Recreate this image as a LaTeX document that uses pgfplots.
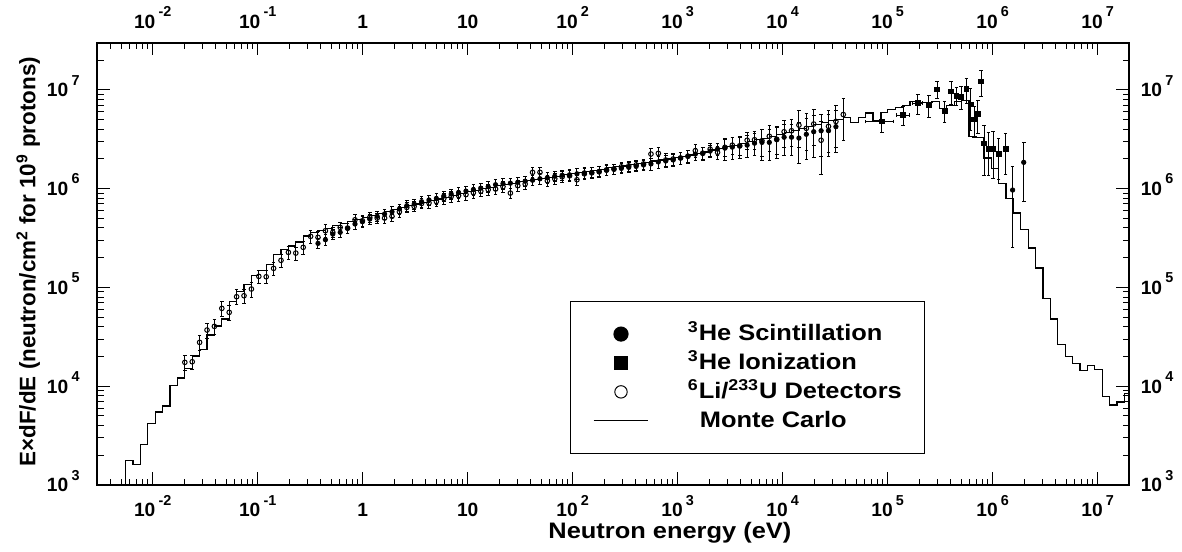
\documentclass[border=0pt]{standalone}
\usepackage{fontspec}
\setmainfont{Liberation Sans}[UprightFont=* Bold]
\newfontfamily\labfont{Liberation Sans}[UprightFont=* Bold, FakeStretch=1.135]
\usepackage{pgfplots}
\pgfplotsset{compat=1.18}

% ROOT-style raised exponent for the tick labels
\newcommand{\tsup}[1]{\hspace{1.6pt}\raisebox{0.6em}{\scalebox{0.75}{#1}}}

\pgfplotsset{
  errs/.style={error bars/y dir=both, error bars/y explicit relative,
    error bars/error bar style={line width=0.5pt},
    error bars/error mark options={rotate=90, mark size=0.9pt, line width=0.5pt}},
}

\begin{document}
\begin{tikzpicture}
\begin{axis}[
  at={(0,0)}, anchor=south west,
  scale only axis, width=515.9pt, height=221.2pt,
  xmode=log, ymode=log,
  xmin=2.965e-3, xmax=1.99e7, ymin=1e3, ymax=3.0e7,
  xtick={1e-2,1e-1,1,10,1e2,1e3,1e4,1e5,1e6,1e7},
  xticklabels={10\tsup{-2},10\tsup{-1},1,10,10\tsup{2},10\tsup{3},10\tsup{4},10\tsup{5},10\tsup{6},10\tsup{7}},
  ytick={1e3,1e4,1e5,1e6,1e7},
  yticklabels={10\tsup{3},10\tsup{4},10\tsup{5},10\tsup{6},10\tsup{7}},
  tick label style={font=\fontsize{9.6}{11}\selectfont},
  xticklabel style={anchor=base, yshift=-15.85pt},
  yticklabel style={anchor=base east, yshift=-3.4pt, xshift=-5.35pt},
  tick align=inside, tick pos=both,
  major tick length=6.3pt, minor tick length=3.2pt,
  every tick/.style={black, line width=0.5pt},
  axis line style={line width=1pt},
  minor xtick={3e-3,4e-3,5e-3,6e-3,7e-3,8e-3,9e-3,
    2e-2,3e-2,4e-2,5e-2,6e-2,7e-2,8e-2,9e-2,
    0.2,0.3,0.4,0.5,0.6,0.7,0.8,0.9, 2,3,4,5,6,7,8,9,
    20,30,40,50,60,70,80,90, 200,300,400,500,600,700,800,900,
    2e3,3e3,4e3,5e3,6e3,7e3,8e3,9e3, 2e4,3e4,4e4,5e4,6e4,7e4,8e4,9e4,
    2e5,3e5,4e5,5e5,6e5,7e5,8e5,9e5, 2e6,3e6,4e6,5e6,6e6,7e6,8e6,9e6},
  minor ytick={2e3,3e3,4e3,5e3,6e3,7e3,8e3,9e3, 2e4,3e4,4e4,5e4,6e4,7e4,8e4,9e4,
    2e5,3e5,4e5,5e5,6e5,7e5,8e5,9e5, 2e6,3e6,4e6,5e6,6e6,7e6,8e6,9e6, 2e7},
  xlabel={Neutron energy (eV)},
  xlabel style={at={(axis description cs:0.555,-0.1198)}, anchor=base,
    font=\labfont\fontsize{11.2}{13}\selectfont},
  ylabel={E×dF/dE (neutron/cm\textsuperscript{2} for 10\textsuperscript{9} protons)},
  ylabel style={at={(axis description cs:-0.0601,0.505)}, rotate=0, anchor=base,
    font=\fontsize{11.2}{13}\selectfont},
  legend style={at={(0.458,0.416)}, anchor=north west, draw=black, line width=0.6pt,
    fill=white, inner xsep=11.35pt, inner ysep=9pt, row sep=0pt,
    font=\labfont\fontsize{11.2}{13}\selectfont,
    nodes={inner sep=0pt, text height=10.5pt, text depth=3.95pt},
    /tikz/every odd column/.append style={column sep=19.5pt}},
  legend cell align=left,
]
% Monte Carlo histogram (left bin edges)
\addplot[const plot, black, line width=0.6pt, forget plot] coordinates {
(5.52e-3,1000) (5.52e-3,1762) (6.49e-3,1622) (7.64e-3,2570) (8.98e-3,4169)
(1.057e-2,5495) (1.243e-2,6310) (1.462e-2,10230) (1.719e-2,12110) (2.022e-2,15140)
(2.378e-2,20230) (2.797e-2,23440) (3.29e-2,32960) (3.869e-2,40740) (4.551e-2,47860)
(5.353e-2,72440) (6.295e-2,91200) (7.404e-2,1.072e5) (8.709e-2,1.318e5) (0.1024,1.479e5)
(0.1205,1.698e5) (0.1417,2.138e5) (0.1667,2.399e5) (0.196,2.630e5) (0.2306,2.884e5)
(0.2712,3.311e5) (0.3189,3.631e5) (0.3751,3.802e5) (0.4413,3.981e5) (0.519,4.217e5)
(0.6104,4.416e5) (0.7179,4.677e5) (0.8445,4.898e5) (0.9931,5.129e5) (1.168,5.370e5)
(1.374,5.623e5) (1.616,5.888e5) (1.901,6.166e5) (2.236,6.457e5) (2.630,6.761e5)
(3.092,6.998e5) (3.638,7.244e5) (4.279,7.586e5) (5.032,7.852e5) (5.918,8.128e5)
(6.961,8.511e5) (8.186,8.913e5) (9.630,9.333e5) (11.33,9.661e5) (13.32,1.0e6)
(15.67,1.035e6) (18.43,1.072e6) (21.68,1.096e6) (25.49,1.135e6) (29.99,1.175e6)
(35.27,1.202e6) (41.48,1.245e6) (48.79,1.274e6) (57.39,1.303e6) (67.50,1.334e6)
(79.38,1.380e6) (93.37,1.413e6) (109.8,1.445e6) (129.2,1.496e6) (151.9,1.531e6)
(178.7,1.567e6) (210.1,1.622e6) (247.2,1.660e6) (290.7,1.698e6) (342.0,1.758e6)
(402.2,1.799e6) (473.0,1.841e6) (556.4,1.905e6) (654.3,1.950e6) (769.6,1.995e6)
(905.3,2.065e6) (1065,2.113e6) (1252,2.188e6) (1473,2.265e6) (1733,2.344e6)
(2038,2.455e6) (2397,2.570e6) (2819,2.661e6) (3315,2.754e6) (3899,2.884e6)
(4587,2.985e6) (5394,3.126e6) (6345,3.236e6) (7463,3.388e6) (8778,3.548e6)
(10323,3.715e6) (12142,3.890e6) (14282,4.074e6) (16795,4.266e6) (19756,4.467e6)
(23238,4.677e6) (27327,4.898e6) (32145,5.012e6) (37809,5.248e6) (44473,4.677e6)
(52299,5.248e6) (61516,5.821e6) (72359,4.898e6) (85097,5.888e6) (1.0009e5,6.310e6)
(1.1773e5,6.607e6) (1.3845e5,6.918e6) (1.6285e5,7.586e6) (1.9155e5,7.413e6) (2.2532e5,7.413e6)
(2.6496e5,7.586e6) (3.1168e5,6.457e6) (3.6659e5,6.918e6) (4.3111e5,7.586e6) (5.071e5,7.762e6)
(5.965e5,3.388e6) (7.014e5,3.311e6) (8.251e5,2.042e6) (9.705e5,1.585e6) (1.1415e6,1.122e6)
(1.3424e6,7.943e5) (1.5791e6,5.662e5) (1.857e6,3.890e5) (2.184e6,2.512e5) (2.569e6,1.570e5)
(3.022e6,7.762e4) (3.554e6,4.786e4) (4.180e6,2.630e4) (4.917e6,1.995e4) (5.784e6,1.698e4)
(6.801e6,1.445e4) (8.000e6,1.622e4) (9.410e6,1.479e4) (1.1066e7,7943) (1.3016e7,6457)
(1.531e7,6918) (1.8005e7,8511) (2.12e7,8511)
};
% 3He scintillation
\addplot[only marks, mark=*, mark size=1.1pt, black, forget plot, errs] coordinates {
(0.3751,2.793e5) +- (0,0.12) (0.4413,3.041e5) +- (0,0.12) (0.519,3.467e5) +- (0,0.12)
(0.6104,3.614e5) +- (0,0.12) (0.7179,3.963e5) +- (0,0.12) (0.8445,4.385e5) +- (0,0.12)
(0.9931,4.624e5) +- (0,0.12) (1.168,4.920e5) +- (0,0.12) (1.374,5.248e5) +- (0,0.12)
(1.616,5.534e5) +- (0,0.12) (1.901,5.835e5) +- (0,0.12) (2.236,6.209e5) +- (0,0.12)
(2.630,6.714e5) +- (0,0.12) (3.092,6.982e5) +- (0,0.12) (3.638,7.379e5) +- (0,0.12)
(4.279,7.674e5) +- (0,0.12) (5.032,7.943e5) +- (0,0.12) (5.918,8.414e5) +- (0,0.12)
(6.961,8.810e5) +- (0,0.12) (8.186,9.120e5) +- (0,0.12) (9.630,9.441e5) +- (0,0.12)
(11.33,9.772e5) +- (0,0.12) (13.32,1.012e6) +- (0,0.12) (15.67,1.047e6) +- (0,0.12)
(18.43,1.096e6) +- (0,0.12) (21.68,1.122e6) +- (0,0.12) (25.49,1.135e6) +- (0,0.12)
(29.99,1.161e6) +- (0,0.12) (35.27,1.189e6) +- (0,0.12) (41.48,1.216e6) +- (0,0.12)
(48.79,1.259e6) +- (0,0.12) (57.39,1.288e6) +- (0,0.12) (67.50,1.334e6) +- (0,0.12)
(79.38,1.365e6) +- (0,0.12) (93.37,1.380e6) +- (0,0.12) (109.8,1.413e6) +- (0,0.12)
(129.2,1.445e6) +- (0,0.12) (151.9,1.462e6) +- (0,0.12) (178.7,1.496e6) +- (0,0.12)
(210.1,1.531e6) +- (0,0.12) (247.2,1.567e6) +- (0,0.12) (290.7,1.603e6) +- (0,0.12)
(342.0,1.641e6) +- (0,0.12) (402.2,1.679e6) +- (0,0.12) (473.0,1.738e6) +- (0,0.12)
(556.4,1.778e6) +- (0,0.14) (654.3,1.862e6) +- (0,0.14) (769.6,1.905e6) +- (0,0.14)
(905.3,1.950e6) +- (0,0.14) (1065,2.042e6) +- (0,0.14) (1252,2.138e6) +- (0,0.14)
(1473,2.239e6) +- (0,0.14) (1733,2.291e6) +- (0,0.14) (2038,2.399e6) +- (0,0.14)
(2397,2.512e6) +- (0,0.14) (2819,2.570e6) +- (0,0.25) (3315,2.630e6) +- (0,0.25)
(3899,2.692e6) +- (0,0.25) (4587,2.754e6) +- (0,0.25) (5394,2.884e6) +- (0,0.25)
(6345,2.938e6) +- (0,0.35) (7463,2.938e6) +- (0,0.35) (8778,3.126e6) +- (0,0.35)
(10323,3.311e6) +- (0,0.35) (12142,3.311e6) +- (0,0.35) (14282,3.251e6) +- (0,0.45)
(16795,3.548e6) +- (0,0.45) (19756,3.767e6) +- (0,0.45) (23238,3.855e6) +- (0,0.45)
(27327,3.855e6) +- (0,0.45) (32145,4.236e6) +- (0,0.45)
(1.549e6,9.68e5) +- (0,0.74) (1.977e6,1.845e6) +- (0,0.6)
};
% 6Li / 233U detectors
\addplot[only marks, mark=o, mark size=1.15pt, black, line width=0.5pt, mark options={fill=white}, forget plot, errs] coordinates {
(2.022e-2,1.746e4) +- (0,0.17) (2.378e-2,1.770e4) +- (0,0.17) (2.797e-2,2.780e4) +- (0,0.17)
(3.29e-2,3.707e4) +- (0,0.17) (3.869e-2,4.036e4) +- (0,0.17) (4.551e-2,6.138e4) +- (0,0.17)
(5.353e-2,5.598e4) +- (0,0.17) (6.295e-2,8.054e4) +- (0,0.17) (7.404e-2,8.242e4) +- (0,0.17)
(8.709e-2,9.638e4) +- (0,0.17) (0.1024,1.294e5) +- (0,0.15) (0.1205,1.282e5) +- (0,0.15)
(0.1417,1.560e5) +- (0,0.15) (0.1667,1.879e5) +- (0,0.15) (0.196,2.265e5) +- (0,0.15)
(0.2306,2.228e5) +- (0,0.15) (0.2712,2.547e5) +- (0,0.15) (0.3189,3.289e5) +- (0,0.15)
(0.3751,3.214e5) +- (0,0.15) (0.4413,3.750e5) +- (0,0.15) (0.519,3.614e5) +- (0,0.12)
(0.6104,4.055e5) +- (0,0.12) (0.7179,3.990e5) +- (0,0.12) (0.8445,4.842e5) +- (0,0.12)
(0.9931,4.732e5) +- (0,0.12) (1.168,5.117e5) +- (0,0.12) (1.374,5.035e5) +- (0,0.12)
(1.616,5.035e5) +- (0,0.12) (1.901,5.248e5) +- (0,0.12) (2.236,5.835e5) +- (0,0.12)
(2.630,6.457e5) +- (0,0.12) (3.092,6.607e5) +- (0,0.12) (3.638,7.080e5) +- (0,0.12)
(4.279,7.161e5) +- (0,0.12) (5.032,7.413e5) +- (0,0.12) (5.918,7.943e5) +- (0,0.12)
(6.961,8.318e5) +- (0,0.12) (8.186,8.511e5) +- (0,0.12) (9.630,8.710e5) +- (0,0.12)
(11.33,9.120e5) +- (0,0.12) (13.32,9.441e5) +- (0,0.12) (15.67,9.772e5) +- (0,0.12)
(18.43,9.908e5) +- (0,0.12) (21.68,1.047e6) +- (0,0.12) (25.49,9.016e5) +- (0,0.12)
(29.99,1.072e6) +- (0,0.12) (35.27,1.114e6) +- (0,0.12) (41.48,1.462e6) +- (0,0.12)
(48.79,1.462e6) +- (0,0.12) (57.39,1.202e6) +- (0,0.12) (67.50,1.259e6) +- (0,0.12)
(79.38,1.318e6) +- (0,0.12) (93.37,1.349e6) +- (0,0.12) (109.8,1.230e6) +- (0,0.12)
(129.2,1.413e6) +- (0,0.12) (151.9,1.445e6) +- (0,0.12) (178.7,1.479e6) +- (0,0.12)
(210.1,1.549e6) +- (0,0.12) (247.2,1.585e6) +- (0,0.12) (290.7,1.660e6) +- (0,0.12)
(342.0,1.698e6) +- (0,0.12) (402.2,1.738e6) +- (0,0.12) (473.0,1.778e6) +- (0,0.12)
(556.4,2.239e6) +- (0,0.15) (654.3,2.275e6) +- (0,0.15) (769.6,1.950e6) +- (0,0.15)
(905.3,1.995e6) +- (0,0.15) (1065,2.042e6) +- (0,0.15) (1252,2.123e6) +- (0,0.15)
(1473,2.421e6) +- (0,0.15) (1733,2.275e6) +- (0,0.15) (2038,2.512e6) +- (0,0.15)
(2397,2.328e6) +- (0,0.15) (2819,2.618e6) +- (0,0.2) (3315,2.754e6) +- (0,0.2)
(3899,2.716e6) +- (0,0.2) (4587,3.090e6) +- (0,0.2) (5394,3.126e6) +- (0,0.2)
(6345,3.055e6) +- (0,0.3) (7463,3.388e6) +- (0,0.3) (8778,3.162e6) +- (0,0.3)
(10323,3.767e6) +- (0,0.3) (12142,3.855e6) +- (0,0.3) (14282,4.395e6) +- (0,0.4)
(16795,4.074e6) +- (0,0.4) (19756,4.508e6) +- (0,0.4) (23238,3.090e6) +- (0,0.55)
(27327,4.266e6) +- (0,0.45) (32145,4.786e6) +- (0,0.45) (37809,5.623e6) +- (0,0.45)
};
% 3He ionization
\addplot[only marks, mark=square*, mark size=1.2pt, black, forget plot, errs,
  error bars/x dir=both, error bars/x explicit relative] coordinates {
(8.83e4,4.786e6) +- (0.3,0.22) (1.403e5,5.559e6) +- (0.14,0.21) (1.936e5,7.345e6) +- (0.1,0.23)
(2.466e5,7.015e6) +- (0.05,0.25) (2.965e5,1.012e7) +- (0.06,0.19) (3.483e5,6.166e6) +- (0.05,0.25)
(4.036e5,9.66e6) +- (0.04,0.26) (4.508e5,8.71e6) +- (0.04,0.2) (5.012e5,8.511e6) +- (0.04,0.26)
(5.623e5,1.019e7) +- (0.03,0.28) (6.166e5,7.129e6) +- (0.03,0.45) (6.683e5,5.012e6) +- (0.03,0.35)
(7.244e5,5.728e6) +- (0.03,0.37) (7.762e5,1.219e7) +- (0.03,0.29) (8.279e5,2.871e6) +- (0.03,0.53)
(9.10e5,2.512e6) +- (0.03,0.46) (1.014e6,2.512e6) +- (0.03,0.5) (1.140e6,2.239e6) +- (0.03,0.45)
(1.330e6,2.512e6) +- (0.03,0.45)
};
\addlegendimage{legend image code/.code={\draw[black] plot[only marks, mark=*, mark size=3.5pt] coordinates {(13.65pt,0pt)};}}
\addlegendentry{\textsuperscript{3}He Scintillation}
\addlegendimage{legend image code/.code={\draw[black] plot[only marks, mark=square*, mark size=3.3pt] coordinates {(13.65pt,0pt)};}}
\addlegendentry{\textsuperscript{3}He Ionization}
\addlegendimage{legend image code/.code={\draw[black, line width=0.5pt] plot[only marks, mark=o, mark size=3.1pt] coordinates {(13.65pt,0pt)};}}
\addlegendentry{\textsuperscript{6}Li/\textsuperscript{233}U Detectors\hspace{6pt}}
\addlegendimage{legend image code/.code={\draw[black, line width=0.6pt] (0pt,0pt) -- (27.3pt,0pt);}}
\addlegendentry{\hspace{6pt}Monte Carlo}
\end{axis}
\begin{axis}[
  at={(0,0)}, anchor=south west,
  scale only axis, width=515.9pt, height=221.2pt,
  xmode=log, ymode=log,
  xmin=2.965e-3, xmax=1.99e7, ymin=1e3, ymax=3.0e7,
  xtick={1e-2,1e-1,1,10,1e2,1e3,1e4,1e5,1e6,1e7},
  xticklabels={10\tsup{-2},10\tsup{-1},1,10,10\tsup{2},10\tsup{3},10\tsup{4},10\tsup{5},10\tsup{6},10\tsup{7}},
  ytick={1e3,1e4,1e5,1e6,1e7},
  yticklabels={10\tsup{3},10\tsup{4},10\tsup{5},10\tsup{6},10\tsup{7}},
  tick label style={font=\fontsize{9.6}{11}\selectfont},
  xticklabel pos=upper, yticklabel pos=right,
  xticklabel style={anchor=base, yshift=7.2pt},
  yticklabel style={anchor=base west, yshift=-3.4pt, xshift=2.35pt},
  axis line style={draw=none}, major tick length=0pt, minor tick length=0pt,
]
\addplot[draw=none] coordinates {(1,1e4)};
\end{axis}
\pgfresetboundingbox
\path ([shift={(-48.65pt,-33pt)}]current axis.south west) rectangle ([shift={(26.5pt,21.35pt)}]current axis.north east);
\end{tikzpicture}
\end{document}
